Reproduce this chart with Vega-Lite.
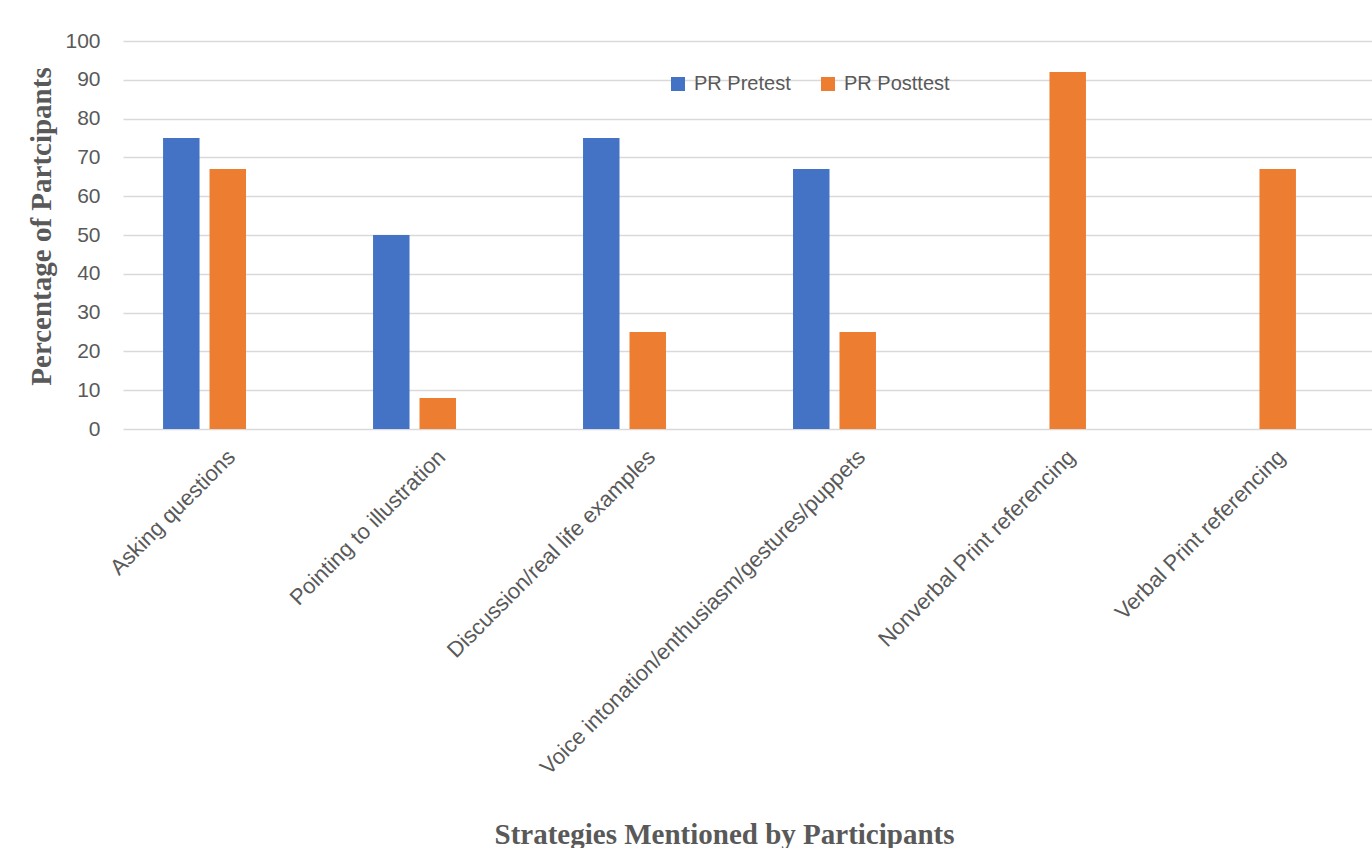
{
  "$schema": "https://vega.github.io/schema/vega-lite/v6.json",
  "width": 1249,
  "height": 388,
  "autosize": {"type": "none"},
  "padding": {"left": 123, "top": 41, "right": 0, "bottom": 419},
  "background": "white",
  "config": {"view": {"stroke": null}, "font": "Liberation Sans"},
  "data": {
    "values": [
      {"strategy": "Asking questions", "test": "PR Pretest", "value": 75},
      {"strategy": "Asking questions", "test": "PR Posttest", "value": 67},
      {"strategy": "Pointing to illustration", "test": "PR Pretest", "value": 50},
      {"strategy": "Pointing to illustration", "test": "PR Posttest", "value": 8},
      {"strategy": "Discussion/real life examples", "test": "PR Pretest", "value": 75},
      {"strategy": "Discussion/real life examples", "test": "PR Posttest", "value": 25},
      {"strategy": "Voice intonation/enthusiasm/gestures/puppets", "test": "PR Pretest", "value": 67},
      {"strategy": "Voice intonation/enthusiasm/gestures/puppets", "test": "PR Posttest", "value": 25},
      {"strategy": "Nonverbal Print referencing", "test": "PR Pretest", "value": 0},
      {"strategy": "Nonverbal Print referencing", "test": "PR Posttest", "value": 92},
      {"strategy": "Verbal Print referencing", "test": "PR Pretest", "value": 0},
      {"strategy": "Verbal Print referencing", "test": "PR Posttest", "value": 67}
    ]
  },
  "mark": {"type": "bar"},
  "encoding": {
    "x": {
      "field": "strategy",
      "type": "nominal",
      "sort": null,
      "scale": {"paddingInner": 0.605, "paddingOuter": 0.2765, "align": 0.345},
      "axis": {
        "title": "Strategies Mentioned by Participants",
        "labelAngle": -45,
        "labelAlign": "right",
        "labelBaseline": "top",
        "labelOffset": 20,
        "labelPadding": 17,
        "labelFontSize": 22,
        "labelColor": "#595959",
        "labelFont": "Liberation Sans",
        "labelLimit": 0,
        "ticks": false,
        "domain": false,
        "titleFont": "Liberation Serif",
        "titleFontSize": 29,
        "titleFontWeight": "bold",
        "titleColor": "#595959",
        "titleX": 601,
        "titleY": 414,
        "titleAlign": "center",
        "titleBaseline": "alphabetic"
      }
    },
    "xOffset": {
      "field": "test",
      "sort": ["PR Pretest", "PR Posttest"],
      "scale": {"paddingInner": 0.215, "paddingOuter": 0}
    },
    "y": {
      "field": "value",
      "type": "quantitative",
      "scale": {"domain": [0, 100]},
      "axis": {
        "title": "Percentage of Partcipants",
        "values": [0, 10, 20, 30, 40, 50, 60, 70, 80, 90, 100],
        "grid": true,
        "gridColor": "#D9D9D9",
        "gridWidth": 1.5,
        "domain": false,
        "ticks": false,
        "labelPadding": 23,
        "labelFontSize": 21,
        "labelColor": "#595959",
        "labelFont": "Liberation Sans",
        "titleFont": "Liberation Serif",
        "titleFontSize": 29,
        "titleFontWeight": "bold",
        "titleColor": "#595959",
        "titleX": -73,
        "titleY": 185,
        "titleAngle": -90,
        "titleAlign": "center",
        "titleBaseline": "alphabetic"
      }
    },
    "color": {
      "field": "test",
      "type": "nominal",
      "scale": {"domain": ["PR Pretest", "PR Posttest"], "range": ["#4472C4", "#ED7D31"]},
      "legend": {
        "title": null,
        "orient": "none",
        "legendX": 545,
        "legendY": 33,
        "direction": "horizontal",
        "symbolType": "square",
        "symbolSize": 196,
        "symbolStrokeWidth": 0,
        "symbolOpacity": 1,
        "labelFontSize": 20,
        "labelColor": "#595959",
        "labelFont": "Liberation Sans",
        "labelOffset": 6,
        "columnPadding": 27
      }
    }
  }
}
